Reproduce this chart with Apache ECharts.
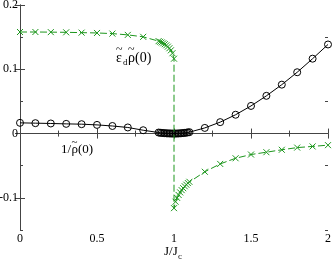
<!DOCTYPE html>
<html><head><meta charset="utf-8">
<script src="https://cdn.jsdelivr.net/npm/echarts@6/dist/echarts.min.js"></script>
<style>html,body{margin:0;padding:0;background:#fff}#c{width:332px;height:261px}</style>
</head><body><div id="c"></div>
<script>
// 1/rho(0) series (black, circles)
const blackJ = [0,0.1,0.2,0.3,0.4,0.5,0.6,0.7,0.8,0.9,0.91,0.92,0.93,0.94,0.95,0.96,0.97,0.98,0.99,1.0,1.01,1.02,1.03,1.04,1.05,1.06,1.07,1.08,1.09,1.1,1.2,1.3,1.4,1.5,1.6,1.7,1.8,1.9,2.0];
const blackY = [0.0167,0.0162,0.0157,0.0151,0.0146,0.0135,0.0118,0.0095,0.0052,0.0016,0.0013,0.001,0.0008,0.0006,0.0004,0.0003,0.0002,0.0001,0.00003,0,0.00003,0.0001,0.0002,0.0004,0.0006,0.0008,0.0011,0.0014,0.0018,0.0022,0.0088,0.0178,0.0293,0.043,0.0587,0.0761,0.0954,0.1165,0.1386];
// eps_d * rho(0) series (green, crosses)
const greenJ = [0,0.1,0.2,0.3,0.4,0.5,0.6,0.7,0.8,0.9,0.91,0.92,0.93,0.94,0.95,0.96,0.97,0.98,0.99,1.0,1.0,1.01,1.02,1.03,1.04,1.05,1.06,1.07,1.08,1.09,1.1,1.2,1.3,1.4,1.5,1.6,1.7,1.8,1.9,2.0];
const greenY = [0.158,0.158,0.1578,0.1575,0.157,0.1565,0.1555,0.1535,0.1505,0.1438,0.1428,0.1417,0.1404,0.139,0.1373,0.1352,0.1327,0.1295,0.125,0.1165,-0.116,-0.106,-0.1,-0.0955,-0.0915,-0.088,-0.085,-0.082,-0.0795,-0.077,-0.075,-0.0594,-0.0472,-0.0384,-0.0326,-0.029,-0.0252,-0.0218,-0.02,-0.018];
const xTicks = [0,0.5,1,1.5,2];
const yTicks = [-0.1,0,0.1,0.2];
const yMinor = [-0.15,-0.05,0.05,0.15];

const FONT = 'Liberation Serif';
const GREEN = '#1c961c';
const AX = '#444';
const zip = (a,b)=>a.map((v,i)=>[v,b[i]]);

const chart = echarts.init(document.getElementById('c'), null, {renderer:'canvas'});
const baseX = {
  type:'value', min:0, max:2, interval:0.5,
  axisLine:{show:true, lineStyle:{color:AX, width:1}},
  axisTick:{show:true, inside:true, length:5, lineStyle:{color:AX}},
  minorTick:{show:true, splitNumber:2, length:3, lineStyle:{color:AX}},
  splitLine:{show:false}
};
const yMajor = (pos, labels) => ({
  type:'value', min:-0.15, max:0.2, position:pos,
  axisLine:{show:true, lineStyle:{color:AX, width:1}},
  axisTick:{show:true, inside:true, length:5, customValues:yTicks, lineStyle:{color:AX}},
  axisLabel:{show:labels, customValues:yTicks, fontFamily:FONT, fontSize:12, color:'#000', margin:2,
    formatter:v=>String(Math.round(v*10)/10)},
  splitLine:{show:false}
});
const yMin = (pos) => ({
  type:'value', min:-0.15, max:0.2, position:pos,
  axisLine:{show:false},
  axisTick:{show:true, inside:true, length:3, customValues:yMinor, lineStyle:{color:AX}},
  axisLabel:{show:false},
  splitLine:{show:false}
});
const txt = (t, left, top, size) => ({type:'text', left:left, top:top,
  style:{text:t, fontFamily:FONT, fontSize:size, fill:'#000'}});
chart.setOption({
  animation:false,
  grid:{left:20, right:4, top:5, bottom:31, containLabel:false, outerBoundsMode:'none'},
  xAxis:[
    Object.assign({}, baseX, {position:'bottom',
      axisLabel:{show:true, fontFamily:FONT, fontSize:12, color:'#000', margin:3,
        customValues:xTicks, formatter:v=>String(v)}}),
    Object.assign({}, baseX, {position:'top', axisLabel:{show:false}})
  ],
  yAxis:[yMajor('left', true), yMajor('right', false), yMin('left'), yMin('right')],
  series:[
    {type:'line', xAxisIndex:0, yAxisIndex:0, data:zip(blackJ, blackY),
     lineStyle:{color:'#000', width:1}, symbol:'circle', symbolSize:7, showSymbol:true,
     itemStyle:{color:'rgba(0,0,0,0)', borderColor:'#000', borderWidth:1}, z:3},
    {type:'line', xAxisIndex:0, yAxisIndex:0, data:zip(greenJ, greenY),
     lineStyle:{color:GREEN, width:1, type:[7,3]},
     symbol:'path://M0,0L10,10M10,0L0,10', symbolSize:6, showSymbol:true,
     itemStyle:{color:GREEN, borderColor:GREEN, borderWidth:1}, z:4}
  ],
  graphic:[
    txt('ε', 116, 51, 14), txt('~', 116, 44, 12),
    txt('d', 123, 58, 9),
    txt('ρ', 128, 51, 14), txt('~', 128, 44, 12),
    txt('(0)', 135, 51, 14),
    txt('1/', 61, 143, 13),
    txt('ρ', 71.5, 143, 13), txt('~', 71.5, 137, 11),
    txt('(0)', 78, 143, 13),
    txt('J/J', 164, 245, 13),
    txt('c', 178, 252, 9)
  ]
});
</script></body></html>
